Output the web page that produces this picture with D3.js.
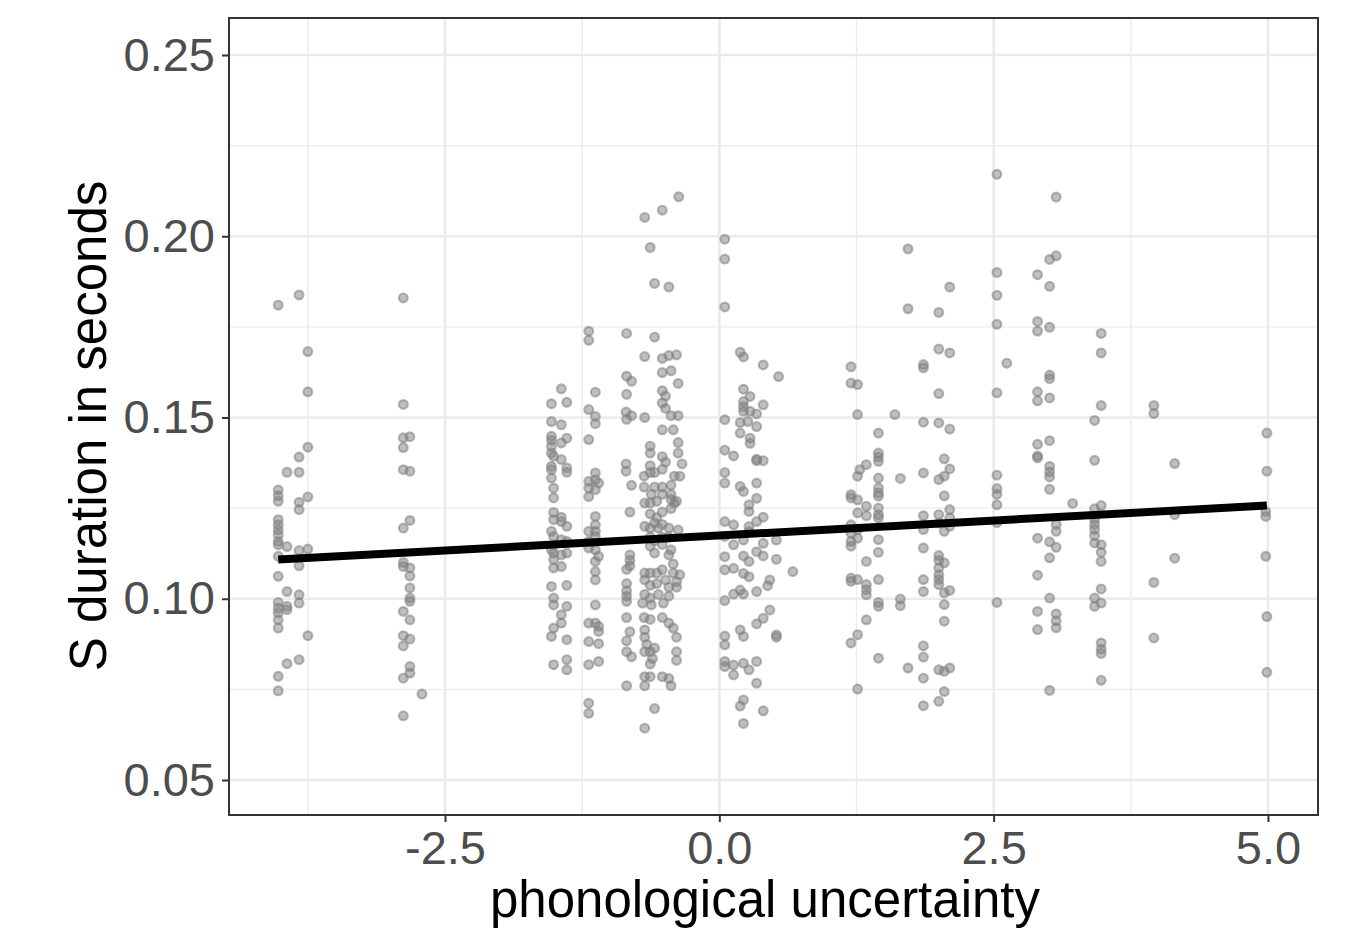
<!DOCTYPE html>
<html>
<head>
<meta charset="utf-8">
<script src="https://cdn.jsdelivr.net/npm/d3@7"></script>
<style>
  body { margin: 0; background: #fff; }
  svg { display: block; font-family: "Liberation Sans", Arial, Helvetica, sans-serif; }
</style>
</head>
<body>
<div id="chart"></div>
<script>
// ---- data: [phonological uncertainty, S duration] ----
const groupNeg4 = [
  [-4.02,0.181],[-4.02,0.130],[-4.02,0.1284],[-4.02,0.1269],[-4.02,0.1218],[-4.02,0.1204],[-4.02,0.119],
  [-4.02,0.1177],[-4.02,0.1158],[-4.02,0.1149],[-4.02,0.1117],[-4.02,0.1062],[-4.02,0.099],[-4.02,0.0974],
  [-4.02,0.0961],[-4.02,0.0942],[-4.02,0.0919],[-4.02,0.0786],[-4.02,0.0746],
  [-3.94,0.1349],[-3.94,0.1144],[-3.94,0.102],[-3.94,0.0979],[-3.94,0.097],[-3.94,0.0821],
  [-3.83,0.1838],[-3.83,0.1391],[-3.83,0.1349],[-3.83,0.1266],[-3.83,0.1246],[-3.83,0.1133],[-3.83,0.1091],
  [-3.83,0.1011],[-3.83,0.0988],[-3.83,0.0832],
  [-3.75,0.1682],[-3.75,0.1571],[-3.75,0.1418],[-3.75,0.1281],[-3.75,0.1137],[-3.75,0.0898]
];

const groupNeg3 = [
  [-2.88,0.183],[-2.88,0.1536],[-2.88,0.1444],[-2.88,0.1417],[-2.88,0.1356],[-2.88,0.1195],[-2.88,0.11],
  [-2.88,0.1089],[-2.88,0.0965],[-2.88,0.0898],[-2.88,0.087],[-2.88,0.0781],[-2.88,0.0677],
  [-2.82,0.1447],[-2.82,0.1352],[-2.82,0.1216],[-2.82,0.1085],[-2.82,0.1063],[-2.82,0.103],[-2.82,0.1002],
  [-2.82,0.0993],[-2.82,0.0942],[-2.82,0.0889],[-2.82,0.0813],[-2.82,0.0795],
  [-2.71,0.0737]
];

const groupNeg1 = [
  [-1.19,0.1738],[-1.19,0.1713],[-1.13,0.157],[-1.19,0.1522],[-1.13,0.1503],[-1.13,0.1483],[-1.19,0.1439],
  [-1.13,0.1347],[-1.13,0.1328],[-1.19,0.1324],[-1.10,0.1319],[-1.19,0.1305],[-1.13,0.1301],[-1.19,0.1282],
  [-1.13,0.1227],[-1.13,0.1204],[-1.19,0.1186],[-1.13,0.1186],[-1.13,0.1172],[-1.19,0.1158],[-1.19,0.114],
  [-1.13,0.1135],[-1.10,0.1117],[-1.13,0.1103],[-1.13,0.1075],[-1.13,0.1052],[-1.13,0.0983],[-1.19,0.0933],
  [-1.13,0.0933],[-1.10,0.0924],[-1.10,0.091],[-1.19,0.0882],[-1.10,0.0876],[-1.19,0.0818],[-1.10,0.0827],
  [-1.19,0.0712],[-1.19,0.0684],
  [-1.44,0.1579],[-1.53,0.1538],[-1.39,0.1542],[-1.53,0.1489],[-1.44,0.148],[-1.53,0.1448],[-1.53,0.1437],
  [-1.39,0.1443],[-1.44,0.143],[-1.53,0.142],[-1.53,0.1402],[-1.51,0.1393],[-1.44,0.1384],[-1.53,0.1365],
  [-1.53,0.1356],[-1.39,0.1361],[-1.39,0.1349],[-1.53,0.1333],[-1.51,0.1305],[-1.51,0.1278],[-1.51,0.1238],
  [-1.51,0.1218],[-1.44,0.1225],[-1.44,0.1213],[-1.39,0.12],[-1.53,0.1186],[-1.51,0.1172],[-1.44,0.1163],
  [-1.39,0.1158],[-1.53,0.1135],[-1.51,0.1126],[-1.44,0.1121],[-1.39,0.1126],[-1.51,0.1108],[-1.51,0.1085],
  [-1.44,0.1089],[-1.53,0.1034],[-1.39,0.1037],[-1.51,0.1002],[-1.51,0.0983],[-1.39,0.0979],[-1.44,0.0956],
  [-1.44,0.0933],[-1.51,0.0919],[-1.53,0.0896],[-1.39,0.0887],[-1.51,0.0818],[-1.39,0.0832],[-1.39,0.0804]
];

const groupNeg05 = [
  [-0.37,0.2109],[-0.52,0.2072],[-0.68,0.2052],[-0.63,0.1969],[-0.59,0.187],[-0.46,0.186],[-0.845,0.1732],
  [-0.59,0.1722],[-0.68,0.1668],[-0.52,0.1663],[-0.46,0.1671],[-0.39,0.1673],[-0.52,0.1624],[-0.44,0.1629],
  [-0.845,0.1614],[-0.80,0.160],[-0.375,0.1594],[-0.845,0.1564],[-0.52,0.1574],[-0.49,0.1559],[-0.68,0.15],
  [-0.85,0.1515],[-0.80,0.1505],[-0.845,0.1495],[-0.52,0.154],[-0.49,0.1525],[-0.44,0.1505],[-0.375,0.1505],
  [-0.52,0.1466],[-0.42,0.1466],[-0.375,0.1431],[-0.63,0.1421],[-0.63,0.1402],[-0.375,0.1402],[-0.34,0.1372],
  [-0.85,0.1372],[-0.85,0.1352],[-0.52,0.1392],[-0.49,0.1377],[-0.63,0.1367],[-0.63,0.1348],[-0.685,0.1338],
  [-0.59,0.1348],[-0.52,0.1357],[-0.80,0.1313],[-0.685,0.1308],[-0.59,0.1308],[-0.52,0.1308],[-0.44,0.1313],
  [-0.41,0.1338],[-0.36,0.1338],[-0.62,0.1288],[-0.52,0.1288],[-0.44,0.1288],[-0.44,0.1274],[-0.39,0.1269],
  [-0.68,0.1264],[-0.63,0.1264],[-0.57,0.1269],[-0.815,0.1239],[-0.63,0.1234],[-0.57,0.1224],[-0.52,0.1239],
  [-0.44,0.1249],[-0.41,0.1264],[-0.59,0.1209],[-0.52,0.1205],[-0.68,0.12],[-0.63,0.1195],[-0.375,0.119],
  [-0.46,0.1195],[-0.555,0.1195],[-0.63,0.117],[-0.59,0.116],[-0.52,0.117],[-0.46,0.117],[-0.63,0.1145],
  [-0.52,0.115],[-0.44,0.1135],[-0.59,0.1126],[-0.815,0.1121],[-0.815,0.1106],[-0.815,0.1091],[-0.845,0.1081],
  [-0.46,0.1121],[-0.42,0.1096],[-0.68,0.1071],[-0.63,0.1071],[-0.57,0.1071],[-0.52,0.108],[-0.42,0.1071],
  [-0.36,0.1066],[-0.39,0.1047],[-0.68,0.1052],[-0.63,0.1037],[-0.57,0.1042],[-0.49,0.1052],[-0.46,0.1032],
  [-0.39,0.1032],[-0.845,0.1042],[-0.845,0.1022],[-0.845,0.1007],[-0.845,0.0993],[-0.68,0.1012],[-0.63,0.1002],
  [-0.555,0.1012],[-0.46,0.1007],[-0.70,0.0988],[-0.62,0.0983],[-0.51,0.0988],[-0.845,0.0948],[-0.815,0.0909],
  [-0.845,0.0884],[-0.845,0.0854],[-0.80,0.084],[-0.685,0.0948],[-0.63,0.0943],[-0.52,0.0948],[-0.46,0.0933],
  [-0.42,0.0919],[-0.39,0.0894],[-0.68,0.0914],[-0.68,0.0894],[-0.66,0.0874],[-0.68,0.0854],[-0.63,0.0854],
  [-0.61,0.0835],[-0.63,0.082],[-0.59,0.0864],[-0.39,0.0854],[-0.39,0.083],[-0.845,0.076],[-0.68,0.0785],
  [-0.68,0.076],[-0.63,0.0785],[-0.52,0.0785],[-0.46,0.078],[-0.44,0.076],[-0.59,0.0697],[-0.68,0.0643]
];

const groupPos0 = [
  [0.05,0.1992],[0.05,0.1937],[0.05,0.1805],[0.19,0.168],[0.22,0.1667],[0.40,0.1645],[0.54,0.1613],
  [0.22,0.1578],[0.28,0.1558],[0.40,0.1535],[0.22,0.1544],[0.22,0.153],[0.22,0.1517],[0.28,0.1517],
  [0.34,0.151],[0.05,0.1494],[0.19,0.1486],[0.26,0.1489],[0.34,0.1475],[0.19,0.1457],[0.28,0.1443],
  [0.28,0.1429],[0.05,0.141],[0.13,0.1394],[0.34,0.1381],[0.40,0.1381],[0.34,0.1385],[0.05,0.1348],
  [0.05,0.1319],[0.34,0.1319],[0.19,0.131],[0.22,0.1296],[0.34,0.1277],[0.27,0.1259],[0.27,0.1241],
  [0.05,0.1213],[0.13,0.1204],[0.40,0.1225],[0.34,0.1213],[0.27,0.1199],[0.05,0.1172],[0.13,0.1149],
  [0.22,0.1162],[0.27,0.1185],[0.40,0.1153],[0.52,0.1162],[0.05,0.1116],[0.22,0.1118],[0.27,0.1103],
  [0.34,0.113],[0.40,0.1118],[0.52,0.1109],[0.05,0.108],[0.13,0.1084],[0.22,0.107],[0.27,0.1061],
  [0.67,0.1075],[0.46,0.1052],[0.44,0.1036],[0.34,0.102],[0.19,0.1024],[0.22,0.1013],[0.13,0.1013],
  [0.05,0.0995],[0.46,0.0969],[0.40,0.0946],[0.34,0.0931],[0.19,0.0914],[0.22,0.0896],[0.52,0.09],
  [0.52,0.0894],[0.05,0.0897],[0.05,0.0873],[0.05,0.0827],[0.05,0.0813],[0.13,0.0817],[0.22,0.0822],
  [0.34,0.0827],[0.27,0.0804],[0.13,0.079],[0.34,0.0767],[0.22,0.0721],[0.19,0.0704],[0.40,0.0691],
  [0.22,0.0656]
];

const groupPos15 = [
  [1.72,0.1965],[2.10,0.186],[1.72,0.18],[2.00,0.179],[2.00,0.1689],[2.10,0.1678],[1.20,0.164],
  [1.86,0.1646],[1.86,0.1637],[1.20,0.1595],[1.26,0.1591],[2.00,0.1566],[1.26,0.1508],[1.60,0.1508],
  [1.86,0.1487],[2.00,0.1485],[2.10,0.1468],[1.45,0.1457],[1.45,0.1402],[1.45,0.1391],[1.45,0.1379],
  [1.34,0.137],[1.28,0.1356],[1.26,0.1338],[2.05,0.1386],[2.10,0.1358],[1.86,0.1347],[1.65,0.1332],
  [1.45,0.1333],[2.05,0.1338],[2.00,0.1329],[1.45,0.1306],[1.45,0.1292],[1.45,0.1283],[1.20,0.1287],
  [1.20,0.1278],[1.26,0.1273],[2.05,0.1284],[1.34,0.1255],[1.45,0.125],[1.26,0.1237],[1.34,0.1229],
  [1.45,0.1232],[1.45,0.1223],[1.86,0.1229],[2.00,0.1232],[2.10,0.1246],[2.10,0.1223],[1.20,0.1204],
  [1.26,0.1191],[1.20,0.1181],[1.86,0.1191],[2.00,0.1209],[2.05,0.1186],[2.10,0.12],[1.20,0.1158],
  [1.26,0.1167],[1.20,0.1145],[1.45,0.1163],[1.45,0.1128],[1.86,0.114],[1.34,0.1103],[2.00,0.1119],
  [2.00,0.1106],[2.05,0.1099],[2.00,0.1085],[2.00,0.1066],[2.00,0.1053],[2.00,0.1039],[1.20,0.1057],
  [1.20,0.1048],[1.26,0.1053],[1.34,0.1039],[1.34,0.1025],[1.34,0.1011],[1.45,0.1053],[1.86,0.1053],
  [1.86,0.102],[2.05,0.1016],[2.10,0.1023],[2.05,0.0984],[1.45,0.099],[1.45,0.0979],[1.65,0.0999],
  [1.65,0.0981],[1.34,0.0942],[2.05,0.0938],[1.26,0.0901],[1.20,0.0878],[1.86,0.087],[1.86,0.0839],
  [1.45,0.0836],[1.72,0.0809],[1.86,0.0781],[2.00,0.0804],[2.05,0.08],[2.10,0.0809],[1.26,0.0751],
  [2.05,0.0744],[2.00,0.0717],[1.86,0.0705]
];

const groupPos3 = [
  [2.53,0.2171],[3.07,0.2108],[3.01,0.1936],[3.07,0.1946],[2.90,0.1894],[2.53,0.19],[3.01,0.1862],
  [2.53,0.1837],[2.53,0.1757],[2.90,0.1765],[2.90,0.1738],[3.01,0.1749],[2.62,0.165],[3.01,0.1617],
  [3.01,0.1607],[2.53,0.1568],[2.90,0.1571],[2.90,0.1546],[3.01,0.1554],[2.90,0.1426],[3.01,0.1436],
  [2.90,0.1394],[2.90,0.1389],[3.01,0.1365],[3.01,0.135],[3.01,0.1336],[3.01,0.1302],[2.53,0.1341],
  [2.53,0.1304],[2.53,0.1288],[2.53,0.1259],[2.53,0.121],[3.07,0.1205],[3.07,0.1186],[3.01,0.1157],
  [3.07,0.1142],[2.90,0.1167],[3.01,0.1113],[2.90,0.1065],[2.53,0.099],[3.01,0.1002],[2.90,0.0965],
  [3.07,0.0958],[3.07,0.0939],[3.07,0.092],[2.90,0.0915],[3.01,0.0747],
  [3.48,0.1732],[3.48,0.1678],[3.48,0.1533],[3.42,0.1492],[3.42,0.1382],[3.22,0.1263],[3.42,0.1248],
  [3.48,0.1257],[3.42,0.122],[3.42,0.1205],[3.42,0.1191],[3.42,0.1174],[3.42,0.1154],[3.48,0.1149],
  [3.48,0.1128],[3.48,0.1103],[3.48,0.1027],[3.42,0.1002],[3.48,0.0988],[3.42,0.0979],[3.48,0.0878],
  [3.48,0.0861],[3.48,0.0849],[3.48,0.0775]
];

const groupPos45 = [
  [3.96,0.1533],[3.96,0.1511],[4.99,0.1457],[4.15,0.1373],[4.99,0.1352],[4.15,0.1232],[4.98,0.1241],
  [4.98,0.1227],[4.15,0.1112],[4.98,0.1117],[3.96,0.1045],[4.99,0.0951],[3.96,0.0892],[4.99,0.0797]
];

// linear fit (geom_smooth, method = lm), read at its two ends
const fitX = [-4.02, 4.99];
const fitY = [0.1108, 0.1257];

const xMajor = [-2.5, 0, 2.5, 5];
const xMinor = [-3.75, -1.25, 1.25, 3.75];
const yMajor = [0.05, 0.10, 0.15, 0.20, 0.25];
const yMinor = [0.075, 0.125, 0.175, 0.225];

const points = [].concat(groupNeg4, groupNeg3, groupNeg1, groupNeg05, groupPos0, groupPos15, groupPos3, groupPos45);

// ---- layout ----
const width = 1349, height = 928;
const panel = { left: 229, right: 1318, top: 18, bottom: 815 };

const svg = d3.select("#chart").append("svg")
  .attr("width", width)
  .attr("height", height);

const x = d3.scaleLinear().domain([-4.4686, 5.456]).range([panel.left, panel.right]);
const y = d3.scaleLinear().domain([0.040345, 0.26021]).range([panel.bottom, panel.top]);

// grid
const grid = svg.append("g");
grid.selectAll(".xmin").data(xMinor).join("line")
  .attr("x1", d => x(d)).attr("x2", d => x(d))
  .attr("y1", panel.top).attr("y2", panel.bottom)
  .attr("stroke", "#ebebeb").attr("stroke-width", 1.4);
grid.selectAll(".ymin").data(yMinor).join("line")
  .attr("y1", d => y(d)).attr("y2", d => y(d))
  .attr("x1", panel.left).attr("x2", panel.right)
  .attr("stroke", "#ebebeb").attr("stroke-width", 1.4);
grid.selectAll(".xmaj").data(xMajor).join("line")
  .attr("x1", d => x(d)).attr("x2", d => x(d))
  .attr("y1", panel.top).attr("y2", panel.bottom)
  .attr("stroke", "#ebebeb").attr("stroke-width", 2.7);
grid.selectAll(".ymaj").data(yMajor).join("line")
  .attr("y1", d => y(d)).attr("y2", d => y(d))
  .attr("x1", panel.left).attr("x2", panel.right)
  .attr("stroke", "#ebebeb").attr("stroke-width", 2.7);

// points
svg.append("g").selectAll("circle").data(points).join("circle")
  .attr("cx", d => x(d[0]))
  .attr("cy", d => y(d[1]))
  .attr("r", 4.4)
  .attr("fill", "#7f7f7f").attr("fill-opacity", 0.5)
  .attr("stroke", "#7f7f7f").attr("stroke-opacity", 0.55).attr("stroke-width", 2.2);

// fit line
svg.append("path")
  .attr("d", d3.line().x(d => x(d[0])).y(d => y(d[1]))(d3.zip(fitX, fitY)))
  .attr("fill", "none")
  .attr("stroke", "#000")
  .attr("stroke-width", 8);

// panel border
svg.append("rect")
  .attr("x", panel.left).attr("y", panel.top)
  .attr("width", panel.right - panel.left).attr("height", panel.bottom - panel.top)
  .attr("fill", "none").attr("stroke", "#333").attr("stroke-width", 2);

// axes
const xAxis = svg.append("g")
  .attr("transform", `translate(0,${panel.bottom})`)
  .call(d3.axisBottom(x).tickValues(xMajor).tickFormat(d3.format(".1f")).tickSize(7).tickPadding(9));
const yAxis = svg.append("g")
  .attr("transform", `translate(${panel.left},0)`)
  .call(d3.axisLeft(y).tickValues(yMajor).tickFormat(d3.format(".2f")).tickSize(7).tickPadding(7));

[xAxis, yAxis].forEach(g => {
  g.select(".domain").remove();
  g.selectAll(".tick line").attr("stroke", "#333").attr("stroke-width", 2);
  g.selectAll(".tick text")
    .attr("fill", "#4d4d4d")
    .style("font-size", "47px")
    .style("font-family", "'Liberation Sans', Arial, sans-serif");
});
xAxis.selectAll(".tick text").text(d => d3.format(".1f")(d).replace("\u2212", "-"));

// axis titles
svg.append("text")
  .attr("x", 765)
  .attr("y", 917)
  .attr("text-anchor", "middle")
  .style("font-size", "51px")
  .attr("fill", "#000")
  .text("phonological uncertainty");

svg.append("text")
  .attr("transform", `translate(106,426) rotate(-90)`)
  .attr("text-anchor", "middle")
  .style("font-size", "51px")
  .attr("fill", "#000")
  .text("S duration in seconds");
</script>
</body>
</html>
